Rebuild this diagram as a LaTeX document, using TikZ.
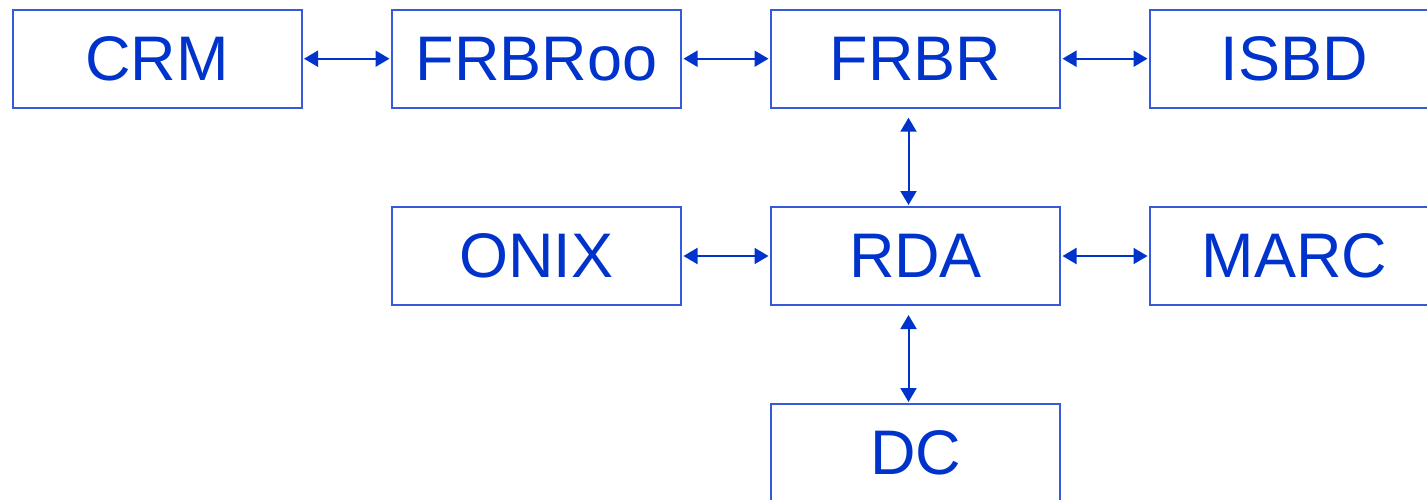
\documentclass[tikz,border=0pt]{standalone}
\usepackage{fontspec}
\setmainfont{Liberation Sans}
\usepackage{tikz}
\usetikzlibrary{arrows.meta}
\usetikzlibrary{calc}
\definecolor{textblue}{RGB}{0,51,204}
\definecolor{lineblue}{RGB}{55,90,220}
\tikzstyle{box}=[rectangle,draw=lineblue,line width=2pt,minimum width=289pt,minimum height=98pt,inner sep=0pt,text=textblue,font=\fontsize{63}{70}\selectfont]
\tikzstyle{link}=[draw,line width=2pt,color=textblue,{Triangle[length=14pt,width=16pt]}-{Triangle[length=14pt,width=16pt]}]
\tikzstyle{hlink}=[link,shorten <=1.5pt,shorten >=1.5pt]
\tikzstyle{vlink}=[link,shorten <=9pt,shorten >=1pt]

\begin{document}
\begin{tikzpicture}[x=1pt,y=-1pt]

   \useasboundingbox (0,0) rectangle (1427,499);

    % first row
    \foreach \pos/\name/\label in {{(157,58.7)/CRM/CRM}, {(536.5,58.7)/FRBRoo/FRBRoo}, {(915.5,58.7)/FRBR/FRBR}, {(1294.5,58.7)/ISBD/ISBD}}
            \node[box] (\name) at \pos {\label};

    % second row
    \foreach \pos/\name/\label in {{(536.5,256)/ONIX/ONIX}, {(915.5,256)/RDA/RDA}, {(1294.5,256)/MARC/MARC}}
            \node[box] (\name) at \pos {\label};

    \node[box] (DC) at (915.5,453) {DC};

    \foreach \source/ \dest in {CRM/FRBRoo, FRBRoo/FRBR, FRBR/ISBD, ONIX/RDA, RDA/MARC}
        \path[hlink] (\source.east) -- (\dest.west);

    \foreach \source/ \dest in {FRBR/RDA, RDA/DC}
        \path[vlink] ([xshift=-7pt]\source.south) -- ([xshift=-7pt]\dest.north);

\end{tikzpicture}
\end{document}
